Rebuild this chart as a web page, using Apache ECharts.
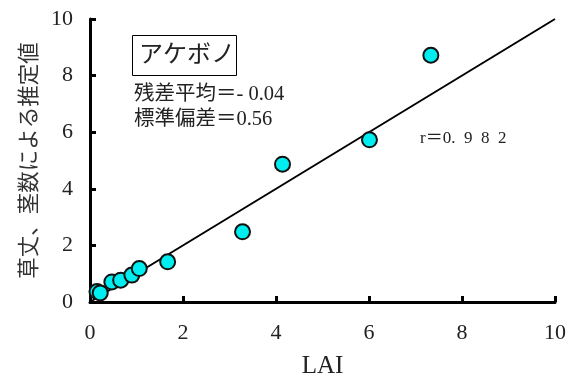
<!DOCTYPE html>
<html>
<head>
<meta charset="utf-8">
<script src="https://cdn.jsdelivr.net/npm/echarts@6/dist/echarts.min.js"></script>
<style>
html,body{margin:0;padding:0;background:#fff;}
#chart{width:574px;height:385px;}
</style>
</head>
<body>
<div id="chart"></div>
<script>
// LAI (measured) vs. value estimated from plant height and stem count
const laiValues = [0.15, 0.22, 0.47, 0.66, 0.90, 1.06, 1.67, 3.28, 4.14, 6.01, 7.33];
const estValues = [0.37, 0.32, 0.71, 0.77, 0.95, 1.18, 1.42, 2.48, 4.87, 5.73, 8.72];
// 1:1 reference line
const lineX = [0, 10];
const lineY = [0, 10];
const tickValues = [0, 2, 4, 6, 8, 10];

const cultivar = 'アケボノ';
const statLines = ['残差平均＝- 0.04', '標準偏差＝0.56'];
const rText = 'r＝0.  9  8  2';

const serif = "'Liberation Serif', 'Noto Sans CJK JP', serif";
const txt = '#222';

const chart = echarts.init(document.getElementById('chart'), null, {renderer: 'canvas'});

const axisCommon = {
  type: 'value',
  min: tickValues[0],
  max: tickValues[tickValues.length - 1],
  interval: 2,
  axisLine: {show: true, lineStyle: {color: '#000', width: 3}},
  axisTick: {show: true, inside: true, length: 6, lineStyle: {color: '#000', width: 3}},
  splitLine: {show: false},
  axisLabel: {color: txt, fontFamily: serif, fontSize: 22}
};

chart.setOption({
  animation: false,
  backgroundColor: '#fff',
  grid: {left: 90, right: 19, top: 19, bottom: 83},
  xAxis: Object.assign({}, axisCommon, {
    name: 'LAI',
    nameLocation: 'middle',
    nameGap: 52,
    nameTextStyle: {color: txt, fontFamily: serif, fontSize: 25},
    axisLabel: Object.assign({}, axisCommon.axisLabel, {margin: 20})
  }),
  yAxis: Object.assign({}, axisCommon, {
    name: '草丈、茎数による推定値',
    nameLocation: 'middle',
    nameGap: 51,
    nameTextStyle: {color: '#333', fontFamily: "'Noto Sans CJK JP', sans-serif", fontSize: 21.5},
    axisLabel: Object.assign({}, axisCommon.axisLabel, {margin: 17})
  }),
  series: [
    {
      type: 'line',
      data: lineX.map((x, i) => [x, lineY[i]]),
      symbol: 'none',
      lineStyle: {color: '#000', width: 2},
      z: 2
    },
    {
      type: 'scatter',
      data: laiValues.map((x, i) => [x, estValues[i]]),
      symbol: 'circle',
      symbolSize: 15,
      itemStyle: {color: '#00eef0', borderColor: '#111', borderWidth: 2, opacity: 1},
      z: 3
    }
  ],
  graphic: [
    {
      type: 'rect',
      left: 132, top: 35,
      shape: {width: 104, height: 40},
      style: {fill: '#fff', stroke: '#000', lineWidth: 1}
    },
    {
      type: 'text',
      left: 139, top: 41,
      style: {text: cultivar, fill: txt, font: "24px 'Noto Sans CJK JP', sans-serif"}
    },
    {
      type: 'text',
      left: 134, top: 84,
      style: {text: statLines[0], fill: txt, font: "20.5px " + serif}
    },
    {
      type: 'text',
      left: 134, top: 109,
      style: {text: statLines[1], fill: txt, font: "20.5px " + serif}
    },
    {
      type: 'text',
      left: 420, top: 130,
      style: {text: rText, fill: txt, font: "17px " + serif}
    }
  ]
});
</script>
</body>
</html>
